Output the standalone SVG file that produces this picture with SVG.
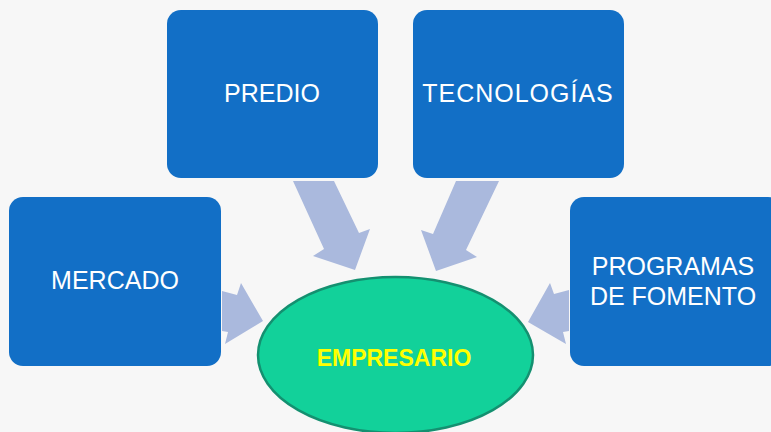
<svg xmlns="http://www.w3.org/2000/svg" width="771" height="432" viewBox="0 0 771 432">
<style>
.box{fill:#126FC6;}
.lbl{font-family:"Liberation Sans","DejaVu Sans",sans-serif;font-size:25px;fill:#ffffff;text-anchor:middle;}
.arr{fill:#AAB9DD;}
</style>
<rect width="771" height="432" fill="#F7F7F7"/>
<g id="connectors">
<polygon class="arr" points="293,181 334,181 359,233 370,229 355,270 313,256 324,249"/>
<polygon class="arr" points="456,181 499,181 466,250 477,257 436,271 421,230 433,234"/>
<polygon class="arr" points="222,291 237,295 241,283 263,321 225,344 228,332 222,331"/>
<polygon class="arr" points="569,290 554,294 550,283 528,322 566,344 563,332 569,331"/>
</g>
<g id="predio">
<rect class="box" x="167" y="10" width="211" height="168" rx="14"/>
<text class="lbl" x="272" y="102">PREDIO</text>
</g>
<g id="tecnologias">
<rect class="box" x="413" y="10" width="211" height="168" rx="14"/>
<text class="lbl" x="518" y="102" letter-spacing="1">TECNOLOGÍAS</text>
</g>
<g id="mercado">
<rect class="box" x="9" y="197" width="212" height="169" rx="14"/>
<text class="lbl" x="115" y="289">MERCADO</text>
</g>
<g id="programas">
<rect class="box" x="570" y="197" width="212" height="169" rx="14"/>
<text class="lbl" x="673" y="275">PROGRAMAS</text>
<text class="lbl" x="673" y="305">DE FOMENTO</text>
</g>
<g id="empresario">
<ellipse cx="395.5" cy="355" rx="137.5" ry="78" fill="#12D19A" stroke="#149070" stroke-width="2.5"/>
<text x="394" y="366" font-family="Liberation Sans, DejaVu Sans, sans-serif" font-size="23" font-weight="bold" fill="#FFFF00" text-anchor="middle">EMPRESARIO</text>
</g>
</svg>
